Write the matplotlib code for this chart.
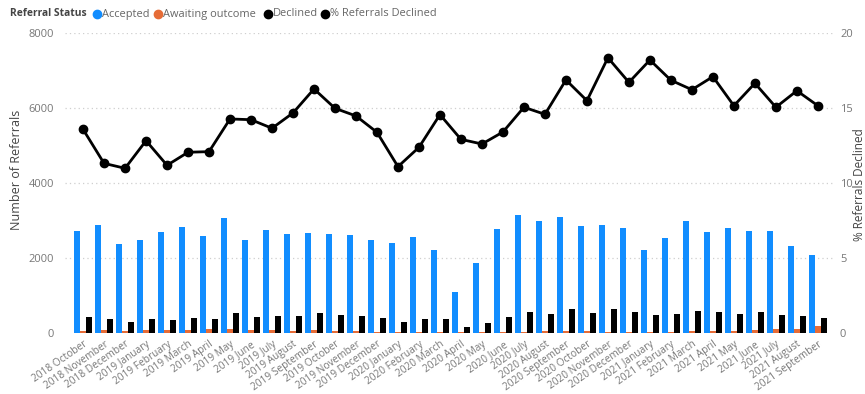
import matplotlib
matplotlib.use("Agg")
import matplotlib.pyplot as plt
from matplotlib.lines import Line2D
import numpy as np

months = [
    "2018 October", "2018 November", "2018 December",
    "2019 January", "2019 February", "2019 March", "2019 April", "2019 May", "2019 June",
    "2019 July", "2019 August", "2019 September", "2019 October", "2019 November", "2019 December",
    "2020 January", "2020 February", "2020 March", "2020 April", "2020 May", "2020 June",
    "2020 July", "2020 August", "2020 September", "2020 October", "2020 November", "2020 December",
    "2021 January", "2021 February", "2021 March", "2021 April", "2021 May", "2021 June",
    "2021 July", "2021 August", "2021 September",
]

accepted = [2720, 2900, 2370, 2500, 2705, 2840, 2590, 3080, 2480, 2750, 2650, 2680,
            2650, 2630, 2500, 2410, 2570, 2215, 1110, 1870, 2790, 3150, 3005, 3095,
            2865, 2875, 2800, 2215, 2545, 3000, 2695, 2795, 2730, 2715, 2315, 2100]

awaiting = [62, 80, 71, 98, 80, 89, 115, 115, 98, 80, 62, 80,
            62, 71, 35, 35, 35, 35, 27, 44, 44, 44, 53, 53,
            62, 44, 44, 44, 44, 62, 62, 62, 80, 106, 106, 204]

declined = [440, 385, 305, 390, 352, 405, 376, 536, 430, 455, 472, 543,
            488, 463, 395, 308, 370, 387, 172, 280, 441, 571, 523, 643,
            530, 650, 565, 500, 525, 595, 565, 515, 562, 500, 465, 410]

pct_declined = [13.6, 11.33, 11.0, 12.84, 11.2, 12.07, 12.11, 14.29, 14.24, 13.67, 14.69, 16.29,
                15.0, 14.49, 13.4, 11.11, 12.4, 14.58, 12.93, 12.62, 13.42, 15.07, 14.6, 16.89,
                15.51, 18.37, 16.73, 18.22, 16.87, 16.24, 17.11, 15.17, 16.67, 15.07, 16.17, 15.17]

left_ticks = [0, 2000, 4000, 6000, 8000]
right_ticks = [0, 5, 10, 15, 20]

BLUE = "#118DFF"
ORANGE = "#E66C37"
BLACK = "#000000"
TICK_GREY = "#777777"
TITLE_GREY = "#444444"

plt.rcParams["font.family"] = ["Open Sans", "DejaVu Sans"]

W, H = 865, 394
fig = plt.figure(figsize=(W / 100, H / 100), dpi=100)
fig.patch.set_facecolor("white")

left_px, right_px, top_px, bottom_px = 65, 833, 33.3, 333.3
ax = fig.add_axes([left_px / W, (H - bottom_px) / H,
                   (right_px - left_px) / W, (bottom_px - top_px) / H])

x = np.arange(len(months))
bw = 0.27
ax.bar(x - 0.28, accepted, width=bw, color=BLUE, zorder=2)
ax.bar(x, awaiting, width=bw, color=ORANGE, zorder=2)
ax.bar(x + 0.28, declined, width=bw, color=BLACK, zorder=2)

ax.set_xlim(-0.86, len(months) - 1 + 0.72)
ax.set_ylim(0, 8000)
ax.set_yticks(left_ticks)
ax.set_yticklabels([str(t) for t in left_ticks])
for g in left_ticks[1:]:
    ax.axhline(g, color="#cfcfcf", lw=0.9, ls=(0, (1, 2.5)), zorder=0)

ax.set_xticks(x)
ax.set_xticklabels(months, rotation=35, ha="right", rotation_mode="anchor",
                   fontsize=7.3, color=TICK_GREY)
ax.tick_params(axis="x", length=0, pad=4)
ax.tick_params(axis="y", length=0, pad=8, labelsize=8, labelcolor=TICK_GREY)
for s in ax.spines.values():
    s.set_visible(False)

ax2 = ax.twinx()
ax2.plot(x, pct_declined, color=BLACK, lw=2.0, marker="o", markersize=6, zorder=3)
ax2.set_ylim(0, 20)
ax2.set_yticks(right_ticks)
ax2.set_yticklabels([str(t) for t in right_ticks])
ax2.tick_params(axis="y", length=0, pad=5, labelsize=8, labelcolor=TICK_GREY)
for s in ax2.spines.values():
    s.set_visible(False)

# axis titles
fig.text(17 / W, 1 - 170 / H, "Number of Referrals", rotation=90, ha="center",
         va="center", fontsize=9, color=TITLE_GREY)
fig.text(853 / W, 1 - 185 / H, "% Referrals Declined", rotation=90, ha="left",
         va="center", fontsize=8.5, color=TITLE_GREY)

# legend row
ly = 1 - 14 / H
fig.text(10 / W, ly, "Referral Status", fontsize=7.4, fontweight="bold",
         color=TITLE_GREY, ha="left", va="center")
items = [(97, BLUE, "Accepted"), (158, ORANGE, "Awaiting outcome"),
         (268, BLACK, "Declined"), (325, BLACK, "% Referrals Declined")]
for px, col, label in items:
    fig.add_artist(Line2D([px / W], [ly], marker="o", markersize=6, color=col,
                          linestyle="none", transform=fig.transFigure))
    fig.text((px + 5) / W, ly, label, fontsize=7.9, color="#666666",
             ha="left", va="center")

fig.savefig("out.png", dpi=100, facecolor="white")
